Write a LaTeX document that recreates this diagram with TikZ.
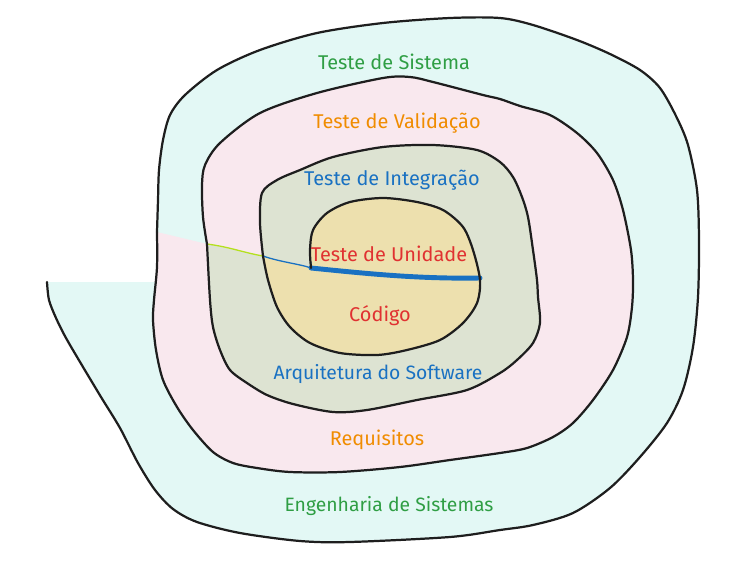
\documentclass[tikz,border=0pt]{standalone}
\usepackage{fontspec}
\setmainfont{Fira Sans}
\usepackage{tikz}
\usetikzlibrary{calc}

\definecolor{inkline}{RGB}{30,30,30}
\definecolor{ringcyan}{RGB}{227,248,245}
\definecolor{ringpink}{RGB}{249,232,238}
\definecolor{ringgreen}{RGB}{221,227,210}
\definecolor{ringyellow}{RGB}{237,224,174}
\definecolor{txtgreen}{RGB}{47,158,68}
\definecolor{txtorange}{RGB}{240,140,0}
\definecolor{txtblue}{RGB}{25,113,194}
\definecolor{txtred}{RGB}{224,49,49}
\definecolor{seamlime}{RGB}{180,224,30}

% the four turns of the spiral, outside in
\def\turnA{plot[smooth,tension=0.5] coordinates {(47,282) (49,300) (56,318) (66,338) (83,367) (101,397) (120,428) (138,463) (155,490) (173,509) (197,522) (240,533) (300,541) (350,542) (450,537) (500,530) (533,525) (573,513) (610,488) (640,457) (667,423) (683,390) (693,347) (698,297) (699,240) (697,190) (688,145) (676,116) (660,88) (640,70) (610,54) (577,40) (533,25) (500,18) (450,18) (383,23) (317,33) (260,50) (217,70) (185,95) (170,115) (163,140) (159,170) (158,200) (157,232)}}
\def\turnB{plot[smooth,tension=0.5] coordinates {(157,232) (157,267) (154,300) (153,320) (156,350) (163,380) (177,407) (193,430) (213,452) (233,463) (257,468) (290,472) (340,472) (400,467) (450,460) (500,453) (527,448) (553,437) (573,423) (593,400) (613,370) (627,337) (632,307) (633,280) (631,250) (623,210) (613,180) (597,153) (577,133) (550,115) (520,106) (500,99) (483,95) (433,82) (410,77) (383,78) (317,93) (260,113) (220,143) (205,165) (202,185) (203,217) (207,244)}}
\def\turnC{plot[smooth,tension=0.5] coordinates {(207,244) (210,300) (213,327) (220,350) (230,370) (247,383) (267,395) (293,404) (333,412) (367,410) (417,400) (467,390) (500,373) (517,360) (533,343) (540,323) (538,297) (537,280) (533,250) (528,217) (522,197) (513,177) (500,162) (477,150) (433,145) (383,147) (333,157) (300,170) (277,180) (262,193) (260,223) (263,256)}}
\def\turnD{plot[smooth,tension=0.5] coordinates {(263,256) (268,280) (277,307) (290,327) (310,343) (340,353) (377,355) (407,350) (440,340) (463,323) (477,303) (480,280) (473,250) (463,227) (443,210) (417,202) (383,198) (350,202) (327,213) (313,230) (310,250) (311,268)}}

\begin{document}
\begin{tikzpicture}[x=0.03cm, y=-0.03cm]
		%%%%% START %%%%%
		\useasboundingbox (0,0) rectangle (746,578);
		
		\fill[ringcyan] \turnA -- (156,282) -- (47,282) -- cycle;
		\fill[ringpink] \turnB -- (157,232) -- cycle;
		\fill[ringgreen] \turnC -- (207,244) -- cycle;
		\fill[ringyellow] \turnD -- (263,256) -- cycle;
		
		\coordinate (seamA) at (207,244);
		\coordinate (seamB) at (263,256);
		\coordinate (seamC) at (311,268);
		\coordinate (axisEnd) at (480,278);
		
		\draw[line width=1.1pt, color=seamlime] (seamA) .. controls (230,247) and (245,253) .. (seamB);
		\draw[line width=1.1pt, color=txtblue] (seamB) .. controls (280,262) and (300,264) .. (seamC) -- ++(0,-6);
		\draw[line width=4.2pt, color=txtblue, line cap=round] (seamC) .. controls (370,274) and (420,279) .. (axisEnd);
		
		\draw[line width=1.9pt, color=inkline, line cap=round, line join=round] \turnA;
		\draw[line width=1.9pt, color=inkline, line cap=round, line join=round] \turnB;
		\draw[line width=1.9pt, color=inkline, line cap=round, line join=round] \turnC;
		\draw[line width=1.9pt, color=inkline, line cap=round, line join=round] \turnD;
		
		\node[font=\fontsize{17}{20}\selectfont, text=txtgreen] (sistemaTeste) at (394,62) {Teste de Sistema};
		\node[font=\fontsize{17}{20}\selectfont, text=txtorange] (validacaoTeste) at (397,123) {Teste de Validação};
		\node[font=\fontsize{17}{20}\selectfont, text=txtblue] (integracaoTeste) at (392,180) {Teste de Integração};
		\node[font=\fontsize{17}{20}\selectfont, text=txtred] (unidadeTeste) at (389,254) {Teste de Unidade};
		\node[font=\fontsize{17}{20}\selectfont, text=txtred] (codigo) at (380,316) {Código};
		\node[font=\fontsize{16.5}{20}\selectfont, text=txtblue] (arquitetura) at (378,374) {Arquitetura do Software};
		\node[font=\fontsize{17}{20}\selectfont, text=txtorange] (requisitos) at (377,440) {Requisitos};
		\node[font=\fontsize{16.5}{20}\selectfont, text=txtgreen] (engenharia) at (389,506) {Engenharia de Sistemas};
		
		%%%%% END %%%%%
	\end{tikzpicture}
\end{document}
